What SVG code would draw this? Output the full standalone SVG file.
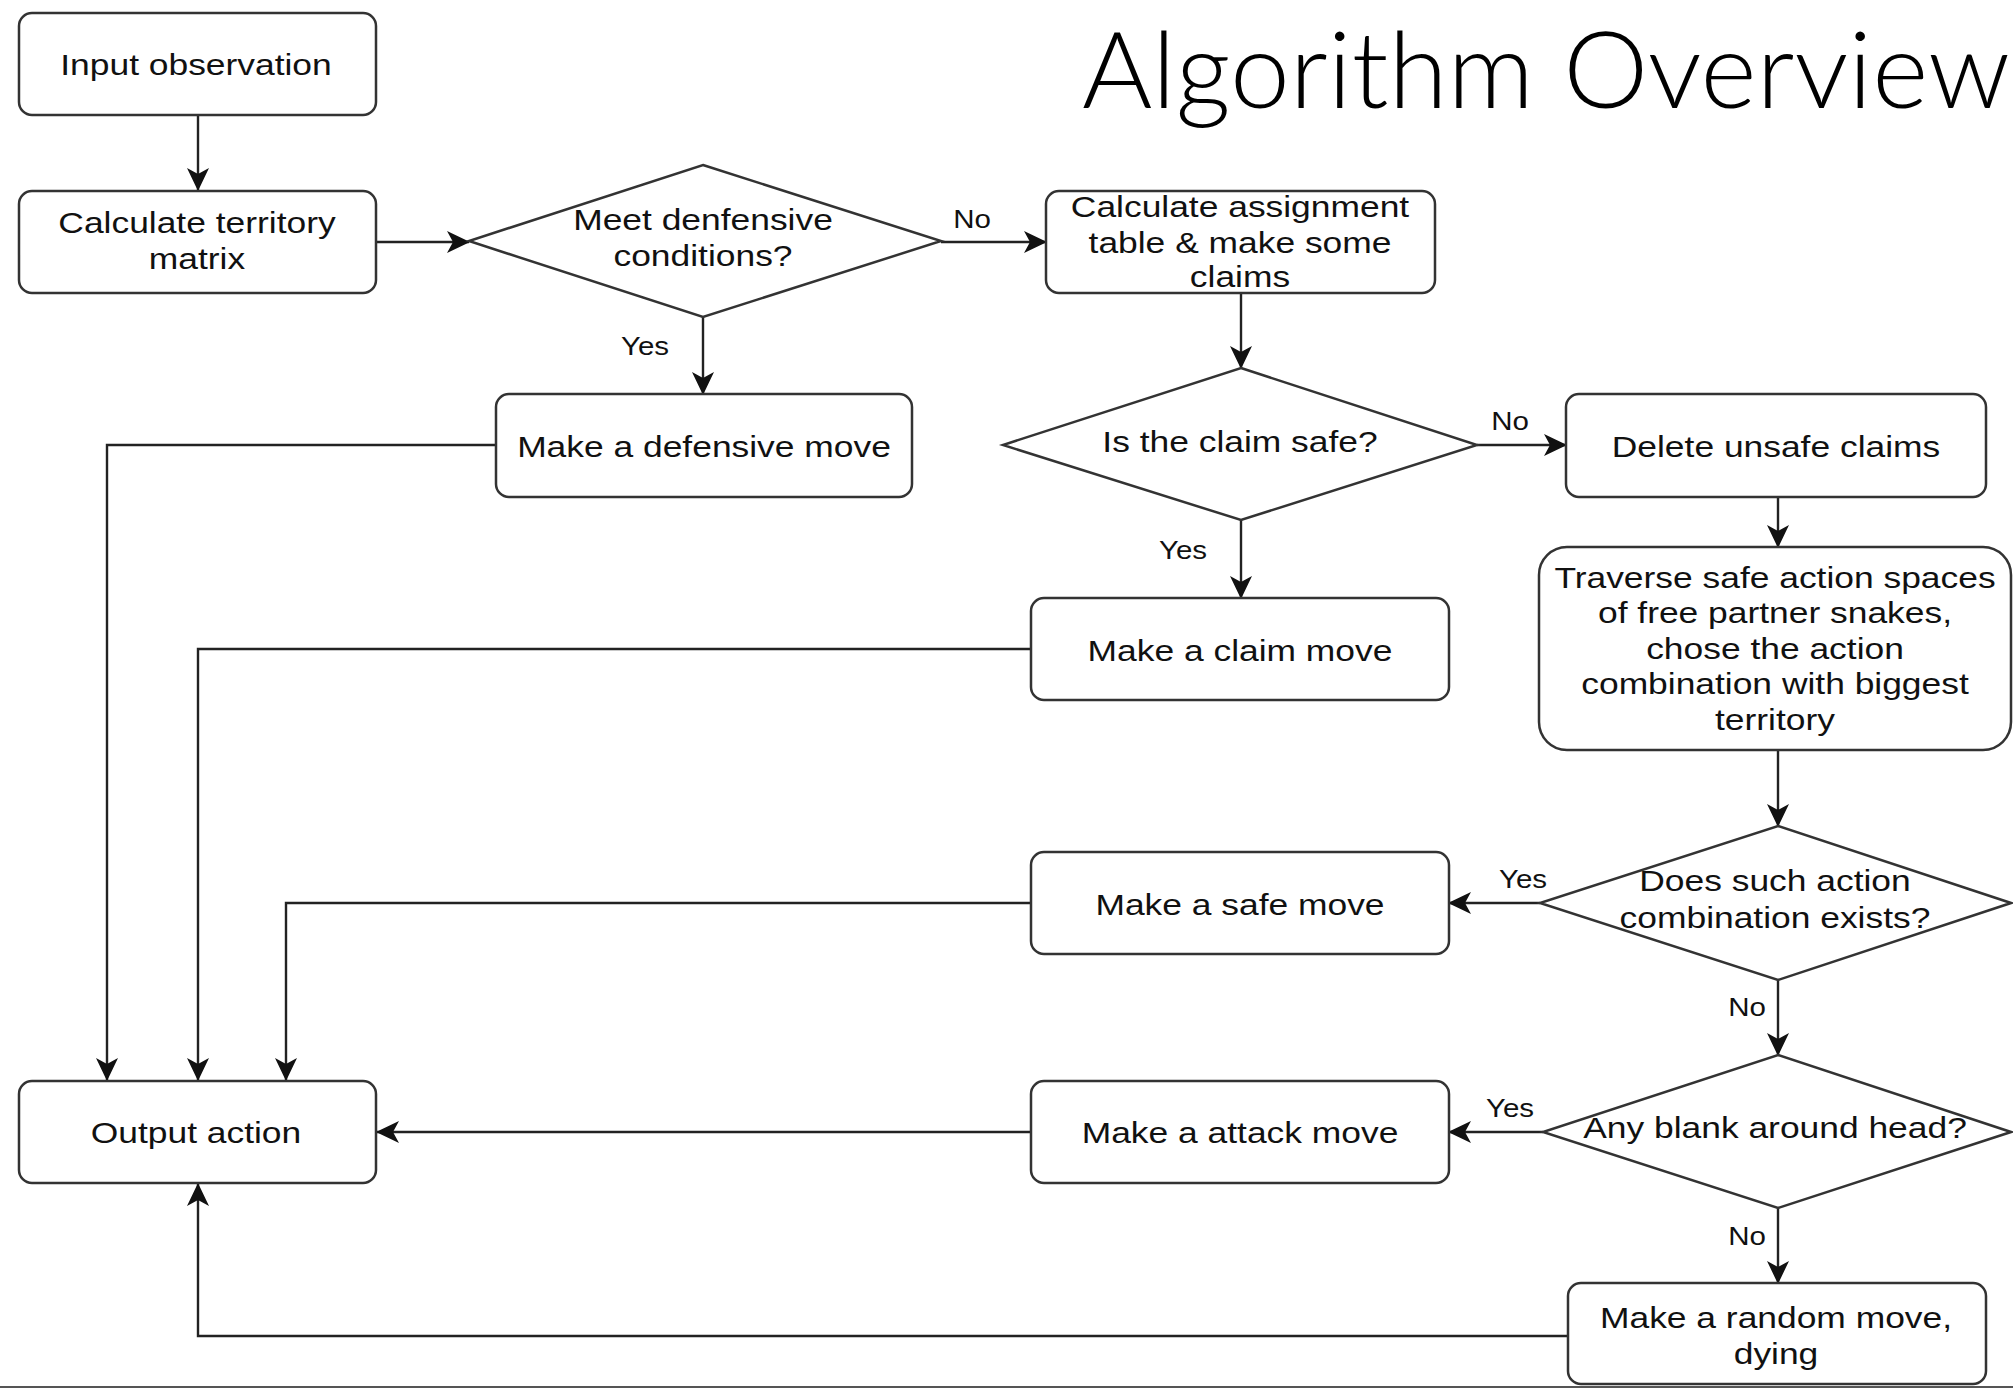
<svg xmlns="http://www.w3.org/2000/svg" width="2013" height="1388" viewBox="0 0 2013 1388">
<style>
.box{fill:#fff;stroke:#333;stroke-width:2.5}
.t{font-family:"Liberation Sans",Arial,sans-serif;font-size:30px;fill:#111;text-anchor:middle}
.l{font-family:"Liberation Sans",Arial,sans-serif;font-size:25px;fill:#111;text-anchor:middle}
.c{fill:none;stroke:#222;stroke-width:2.4}
.title{font-family:Lato,"Open Sans","Liberation Sans",sans-serif;font-weight:300;font-size:106px;fill:#000}
</style>
<defs>
<marker id="ah" markerUnits="userSpaceOnUse" markerWidth="24" markerHeight="22" viewBox="0 0 24 22" refX="22" refY="11" orient="auto">
<path d="M0,0 L23,11 L0,22 L6,11 Z" fill="#111"/>
</marker>
</defs>
<rect width="2013" height="1388" fill="#fff"/>
<text class="title" x="1082" y="108" textLength="928" lengthAdjust="spacingAndGlyphs">Algorithm Overview</text>

<g id="connectors">
<path class="c" d="M198,115 V190" marker-end="url(#ah)"/>
<path class="c" d="M376,242 H469" marker-end="url(#ah)"/>
<path class="c" d="M941,242 H1046" marker-end="url(#ah)"/>
<path class="c" d="M703,317 V394" marker-end="url(#ah)"/>
<path class="c" d="M496,445 H107 V1080" marker-end="url(#ah)"/>
<path class="c" d="M1241,293 V368" marker-end="url(#ah)"/>
<path class="c" d="M1477,445 H1566" marker-end="url(#ah)"/>
<path class="c" d="M1241,520 V598" marker-end="url(#ah)"/>
<path class="c" d="M1031,649 H198 V1080" marker-end="url(#ah)"/>
<path class="c" d="M1778,497 V547" marker-end="url(#ah)"/>
<path class="c" d="M1778,750 V826" marker-end="url(#ah)"/>
<path class="c" d="M1540,903 H1449" marker-end="url(#ah)"/>
<path class="c" d="M1031,903 H286 V1080" marker-end="url(#ah)"/>
<path class="c" d="M1778,980 V1055" marker-end="url(#ah)"/>
<path class="c" d="M1543,1132 H1449" marker-end="url(#ah)"/>
<path class="c" d="M1031,1132 H377" marker-end="url(#ah)"/>
<path class="c" d="M1778,1208 V1283" marker-end="url(#ah)"/>
<path class="c" d="M1568,1336 H198 V1184" marker-end="url(#ah)"/>
<text class="l" transform="translate(972 228) scale(1.18 1)">No</text>
<text class="l" transform="translate(645 355) scale(1.18 1)">Yes</text>
<text class="l" transform="translate(1510 430) scale(1.18 1)">No</text>
<text class="l" transform="translate(1183 559) scale(1.18 1)">Yes</text>
<text class="l" transform="translate(1523 888) scale(1.18 1)">Yes</text>
<text class="l" transform="translate(1747 1016) scale(1.18 1)">No</text>
<text class="l" transform="translate(1510 1117) scale(1.18 1)">Yes</text>
<text class="l" transform="translate(1747 1245) scale(1.18 1)">No</text>
</g>

<g id="input">
<rect class="box" x="19" y="13" width="357" height="102" rx="13"/>
<text class="t" transform="translate(196 75) scale(1.18 1)">Input observation</text>
</g>
<g id="calc-territory">
<rect class="box" x="19" y="191" width="357" height="102" rx="13"/>
<text class="t" transform="translate(197 233) scale(1.18 1)">Calculate territory</text>
<text class="t" transform="translate(197 269) scale(1.18 1)">matrix</text>
</g>
<g id="defensive-cond">
<polygon class="box" points="703,165 941,241 703,317 469,241"/>
<text class="t" transform="translate(703 230) scale(1.18 1)">Meet denfensive</text>
<text class="t" transform="translate(703 266) scale(1.18 1)">conditions?</text>
</g>
<g id="defensive-move">
<rect class="box" x="496" y="394" width="416" height="103" rx="13"/>
<text class="t" transform="translate(704 457) scale(1.18 1)">Make a defensive move</text>
</g>
<g id="calc-assignment">
<rect class="box" x="1046" y="191" width="389" height="102" rx="13"/>
<text class="t" transform="translate(1240 217) scale(1.18 1)">Calculate assignment</text>
<text class="t" transform="translate(1240 253) scale(1.18 1)">table &amp; make some</text>
<text class="t" transform="translate(1240 287) scale(1.18 1)">claims</text>
</g>
<g id="claim-safe">
<polygon class="box" points="1241,368 1477,445 1241,520 1003,445"/>
<text class="t" transform="translate(1240 452) scale(1.18 1)">Is the claim safe?</text>
</g>
<g id="delete-unsafe">
<rect class="box" x="1566" y="394" width="420" height="103" rx="13"/>
<text class="t" transform="translate(1776 457) scale(1.18 1)">Delete unsafe claims</text>
</g>
<g id="claim-move">
<rect class="box" x="1031" y="598" width="418" height="102" rx="13"/>
<text class="t" transform="translate(1240 661) scale(1.18 1)">Make a claim move</text>
</g>
<g id="traverse">
<rect class="box" x="1539" y="547" width="472" height="203" rx="28"/>
<text class="t" transform="translate(1775 588) scale(1.18 1)">Traverse safe action spaces</text>
<text class="t" transform="translate(1775 623) scale(1.18 1)">of free partner snakes,</text>
<text class="t" transform="translate(1775 659) scale(1.18 1)">chose the action</text>
<text class="t" transform="translate(1775 694) scale(1.18 1)">combination with biggest</text>
<text class="t" transform="translate(1775 730) scale(1.18 1)">territory</text>
</g>
<g id="combo-exists">
<polygon class="box" points="1778,826 2011,903 1778,980 1540,903"/>
<text class="t" transform="translate(1775 891) scale(1.18 1)">Does such action</text>
<text class="t" transform="translate(1775 928) scale(1.18 1)">combination exists?</text>
</g>
<g id="safe-move">
<rect class="box" x="1031" y="852" width="418" height="102" rx="13"/>
<text class="t" transform="translate(1240 915) scale(1.18 1)">Make a safe move</text>
</g>
<g id="blank-head">
<polygon class="box" points="1778,1055 2011,1132 1778,1208 1543,1132"/>
<text class="t" transform="translate(1775 1138) scale(1.18 1)">Any blank around head?</text>
</g>
<g id="attack-move">
<rect class="box" x="1031" y="1081" width="418" height="102" rx="13"/>
<text class="t" transform="translate(1240 1143) scale(1.18 1)">Make a attack move</text>
</g>
<g id="random-move">
<rect class="box" x="1568" y="1283" width="418" height="101" rx="13"/>
<text class="t" transform="translate(1776 1328) scale(1.18 1)">Make a random move,</text>
<text class="t" transform="translate(1776 1364) scale(1.18 1)">dying</text>
</g>
<g id="output">
<rect class="box" x="19" y="1081" width="357" height="102" rx="13"/>
<text class="t" transform="translate(196 1143) scale(1.18 1)">Output action</text>
</g>
<line x1="0" y1="1387" x2="2013" y2="1387" stroke="#555" stroke-width="2"/>
</svg>
